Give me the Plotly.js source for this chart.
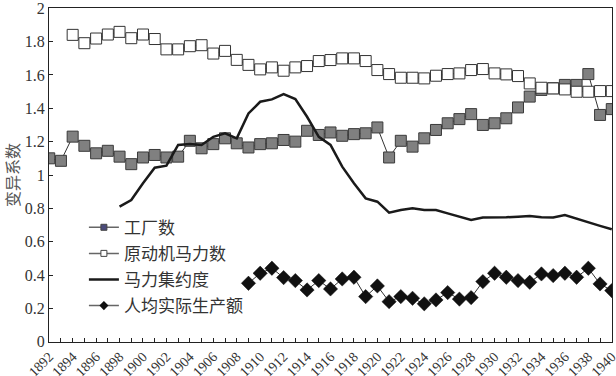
<!DOCTYPE html>
<html>
<head>
<meta charset="utf-8">
<script src="https://cdn.plot.ly/plotly-3.0.1.min.js"></script>
<style>html,body{margin:0;padding:0;background:#fff;}#chart{width:616px;height:376px;}</style>
</head>
<body>
<div id="chart"></div>
<script>
const years = [1892,1893,1894,1895,1896,1897,1898,1899,1900,1901,1902,1903,1904,1905,1906,1907,1908,1909,1910,1911,1912,1913,1914,1915,1916,1917,1918,1919,1920,1921,1922,1923,1924,1925,1926,1927,1928,1929,1930,1931,1932,1933,1934,1935,1936,1937,1938,1939,1940];

const factories = [1.10,1.085,1.23,1.175,1.13,1.145,1.11,1.065,1.105,1.12,1.105,1.11,1.205,1.16,1.185,1.22,1.19,1.165,1.185,1.19,1.21,1.20,1.265,1.24,1.255,1.235,1.245,1.25,1.285,1.105,1.205,1.17,1.22,1.27,1.31,1.335,1.365,1.30,1.31,1.34,1.405,1.47,1.51,1.52,1.54,1.54,1.605,1.36,1.395];

const primeMoverHP = [null,null,1.84,1.79,1.818,1.842,1.858,1.82,1.842,1.815,1.753,1.753,1.772,1.778,1.728,1.744,1.69,1.66,1.633,1.645,1.625,1.645,1.653,1.683,1.689,1.699,1.699,1.683,1.629,1.605,1.583,1.583,1.579,1.595,1.605,1.609,1.629,1.635,1.609,1.603,1.593,1.549,1.523,1.519,1.513,1.499,1.499,1.503,1.503];

const hpIntensity = [null,null,null,null,null,null,0.81,0.85,0.95,1.044,1.056,1.18,1.186,1.18,1.229,1.25,1.22,1.369,1.439,1.453,1.485,1.455,1.349,1.229,1.18,1.05,0.95,0.86,0.84,0.774,0.79,0.80,0.79,0.79,0.77,0.75,0.73,0.745,0.745,0.747,0.75,0.754,0.747,0.745,0.76,0.737,0.714,0.695,0.675];

const perCapitaOutput = [null,null,null,null,null,null,null,null,null,null,null,null,null,null,null,null,null,0.351,0.411,0.441,0.385,0.367,0.311,0.367,0.317,0.377,0.387,0.271,0.335,0.241,0.271,0.261,0.228,0.251,0.295,0.256,0.265,0.361,0.411,0.387,0.367,0.357,0.407,0.397,0.411,0.387,0.441,0.347,0.307];

const xTickVals = [1892,1894,1896,1898,1900,1902,1904,1906,1908,1910,1912,1914,1916,1918,1920,1922,1924,1926,1928,1930,1932,1934,1936,1938,1940];
const xTickText = ['1892','1894','1896','1898','1900','1902','1904','1906','1908','1910','1912','1914','1916','1918','1920','1922','1924','1926','1928','1930','1932','1934','1936','1938','1940'];
const yTickVals = [0,0.2,0.4,0.6,0.8,1,1.2,1.4,1.6,1.8,2];
const yTickText = ['0','0.2','0.4','0.6','0.8','1','1.2','1.4','1.6','1.8','2'];

const seriesNames = ['工厂数','原动机马力数','马力集约度','人均实际生产额'];
const yTitle = '变异系数';

const cjk = 'Noto Sans CJK SC, Noto Sans, sans-serif';
const serif = 'Times New Roman, Liberation Serif, DejaVu Serif, serif';

const traces = [
  {x: years, y: factories, type:'scatter', mode:'lines+markers', showlegend:false,
   line:{color:'#333', width:1}, marker:{symbol:'square', size:11, color:'#808080', line:{color:'#3a3a3a', width:1}}},
  {x: years, y: primeMoverHP, type:'scatter', mode:'lines+markers', showlegend:false,
   line:{color:'#333', width:1}, marker:{symbol:'square', size:11, color:'#ffffff', line:{color:'#333', width:1}}},
  {x: years, y: hpIntensity, type:'scatter', mode:'lines', showlegend:false,
   line:{color:'#1a1a1a', width:2.5}},
  {x: years, y: perCapitaOutput, type:'scatter', mode:'lines+markers', showlegend:false,
   line:{color:'#333', width:1}, marker:{symbol:'diamond', size:11, color:'#111', line:{color:'#111', width:0.5}}},
  {x:[null], y:[null], type:'scatter', mode:'lines+markers', name:seriesNames[0], legendgroup:'a',
   line:{color:'#666', width:1.5}, marker:{symbol:'square', size:6, color:'#4a4a7a', line:{color:'#444', width:1}}},
  {x:[null], y:[null], type:'scatter', mode:'lines+markers', name:seriesNames[1], legendgroup:'b',
   line:{color:'#666', width:1.5}, marker:{symbol:'square', size:6, color:'#fff', line:{color:'#444', width:1}}},
  {x:[null], y:[null], type:'scatter', mode:'lines', name:seriesNames[2], legendgroup:'c',
   line:{color:'#1a1a1a', width:2.5}},
  {x:[null], y:[null], type:'scatter', mode:'lines+markers', name:seriesNames[3], legendgroup:'d',
   line:{color:'#666', width:1.5}, marker:{symbol:'diamond', size:7, color:'#111'}}
];

const layout = {
  width:616, height:376,
  margin:{l:49, r:4, t:8, b:34},
  paper_bgcolor:'#fff', plot_bgcolor:'#fff',
  font:{family:serif, size:16, color:'#333'},
  showlegend:true,
  legend:{x:0.062, y:0.396, xanchor:'left', yanchor:'top', bgcolor:'rgba(0,0,0,0)',
    font:{family:cjk, size:17, color:'#333'}, traceorder:'grouped', tracegroupgap:1,
    itemwidth:30},
  xaxis:{range:[1891.98, 1940.02], tickmode:'array', tickvals:xTickVals, ticktext:xTickText, tickangle:-45,
    ticklabeloverflow:'allow',
    showgrid:false, zeroline:false, showline:true, linecolor:'#222', linewidth:1, mirror:true,
    ticks:'inside', ticklen:4, tickcolor:'#222',
    minor:{dtick:1, tick0:1892, ticks:'inside', ticklen:4, tickcolor:'#222'},
    tickfont:{family:serif, size:14, color:'#333'}},
  yaxis:{range:[-0.001, 2.001], tickmode:'array', tickvals:yTickVals, ticktext:yTickText,
    ticklabeloverflow:'allow',
    showgrid:false, zeroline:false, showline:true, linecolor:'#222', linewidth:1, mirror:true,
    ticks:'inside', ticklen:4, tickcolor:'#222',
    tickfont:{family:serif, size:16, color:'#333'},
    title:{text:yTitle, font:{family:cjk, size:16, color:'#555'}, standoff:6}}
};

Plotly.newPlot('chart', traces, layout, {displayModeBar:false, staticPlot:true});
</script>
</body>
</html>
